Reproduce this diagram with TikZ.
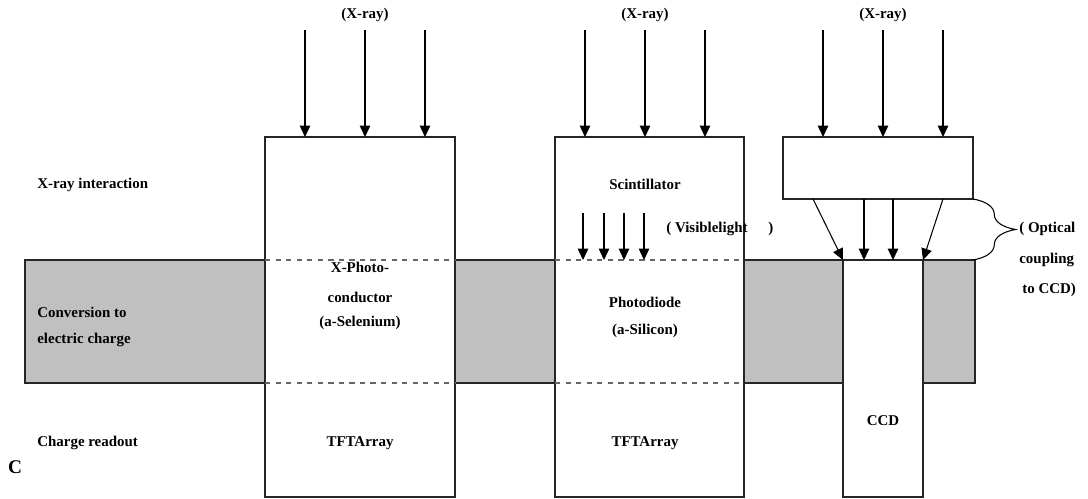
\documentclass[tikz,border=0pt]{standalone}
\usepackage{fontspec}
\setmainfont{Liberation Serif}
\usetikzlibrary{arrows.meta, decorations.pathreplacing, positioning}
\definecolor{bandgray}{RGB}{192,192,192}

\begin{document}
\begin{tikzpicture}[x=0.02cm, y=-0.02cm,
  txt/.style={font=\fontsize{8.5}{10}\selectfont\bfseries, inner sep=0pt},
  layer/.style={line width=0.7pt, draw=black!85, fill=white},
  ray/.style={line width=0.6pt, -{Triangle[length=6.5pt, width=6pt]}},
  sep/.style={dashed, line width=0.6pt, draw=black!60}]
\useasboundingbox (0,0) rectangle (1088,499);

% banda gris: conversion a carga
\draw[line width=0.7pt, draw=black!85, fill=bandgray] (25,260) rectangle (975,383);

% etiquetas de las capas
\node[txt, anchor=west] (lint) at (37,185) {X-ray interaction};
\node[txt, anchor=west] (lconv) at (37,312) {Conversion to};
\node[txt, anchor=west] (lelec) at (37,340) {electric charge};
\node[txt, anchor=west] (lread) at (37,443) {Charge readout};
\node[font=\fontsize{11}{13}\selectfont\bfseries, inner sep=0pt] (lc) at (15,467) {C};

% A: fotoconductor directo
\begin{scope}
\draw[layer] (265,137) rectangle (455,497);
\coordinate (a1) at (265,260); \coordinate (a2) at (455,260);
\coordinate (a3) at (265,383); \coordinate (a4) at (455,383);
\draw[sep] (a1) -- (a2);
\draw[sep] (a3) -- (a4);
\node[txt] (xraya) at (365,15) {(X-ray)};
\foreach \x [count=\i] in {305,365,425} {
  \coordinate (as\i) at (\x,30);
  \coordinate (ae\i) at (\x,137);
  \draw[ray] (as\i) -- (ae\i);
}
\node[txt] (photo) at (360,267) {X-Photo-};
\node[txt] (cond) at (360,297) {conductor};
\node[txt] (selen) at (360,323) {(a-Selenium)};
\node[txt] (tfta) at (360,443) {TFTArray};
\end{scope}

% B: centellador + fotodiodo
\begin{scope}
\draw[layer] (555,137) rectangle (744,497);
\coordinate (b1) at (555,260); \coordinate (b2) at (744,260);
\coordinate (b3) at (555,383); \coordinate (b4) at (744,383);
\draw[sep] (b1) -- (b2);
\draw[sep] (b3) -- (b4);
\node[txt] (xrayb) at (645,15) {(X-ray)};
\foreach \x [count=\i] in {585,645,705} {
  \coordinate (bs\i) at (\x,30);
  \coordinate (be\i) at (\x,137);
  \draw[ray] (bs\i) -- (be\i);
}
\foreach \x [count=\i] in {583,604,624,644} {
  \coordinate (vs\i) at (\x,213);
  \coordinate (ve\i) at (\x,260);
  \draw[ray] (vs\i) -- (ve\i);
}
\node[txt] (scint) at (645,184) {Scintillator};
\node[txt, anchor=west] (vis) at (666,229) {( Visiblelight\hspace{1.4em})};
\node[txt] (pdiode) at (645,302) {Photodiode};
\node[txt] (silic) at (645,331) {(a-Silicon)};
\node[txt] (tftb) at (645,443) {TFTArray};
\end{scope}

% C: centellador + acoplamiento optico + CCD
\begin{scope}
\draw[layer] (783,137) rectangle (973,199);
\draw[layer] (843,260) rectangle (923,497);
\node[txt] (xrayc) at (883,15) {(X-ray)};
\foreach \x [count=\i] in {823,883,943} {
  \coordinate (cs\i) at (\x,30);
  \coordinate (ce\i) at (\x,137);
  \draw[ray] (cs\i) -- (ce\i);
}
\coordinate (o1) at (813,199); \coordinate (p1) at (843,260);
\coordinate (o2) at (864,199); \coordinate (p2) at (864,260);
\coordinate (o3) at (893,199); \coordinate (p3) at (893,260);
\coordinate (o4) at (943,199); \coordinate (p4) at (923,260);
\foreach \i in {1,...,4} \draw[ray] (o\i) -- (p\i);
\coordinate (brtop) at (973,199); \coordinate (brbot) at (973,260);
\draw[line width=0.6pt, decorate, decoration={brace, amplitude=0.85cm}] (brtop) -- (brbot);
\node[txt, anchor=west] (opt) at (1019,229) {( Optical};
\node[txt, anchor=west] (coup) at (1019,260) {coupling};
\node[txt, anchor=west] (toccd) at (1022,290) {to CCD)};
\node[txt] (ccd) at (883,421) {CCD};
\end{scope}
\end{tikzpicture}
\end{document}
